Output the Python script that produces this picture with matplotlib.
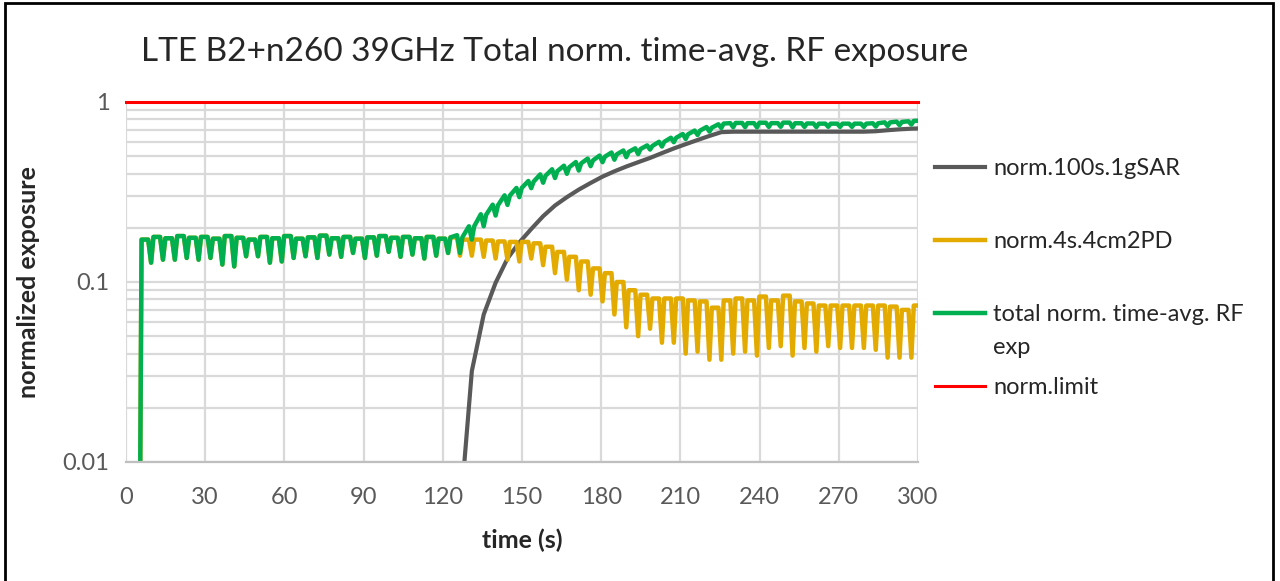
import numpy as np
import matplotlib.pyplot as plt
from matplotlib.patches import Rectangle

plt.rcParams['font.family'] = ['Lato', 'DejaVu Sans']

title = 'LTE B2+n260 39GHz Total norm. time-avg. RF exposure'
labels = ['norm.100s.1gSAR', 'norm.4s.4cm2PD', 'total norm. time-avg. RF', 'norm.limit']
label_wrap = 'exp'  # second line of the third legend entry

# one entry per PD cycle (cycle starts with the sharp dip), 4.5 s apart
cycle_t = 0.5 + 4.5 * np.arange(68)

pd_lo = [np.nan, 0.001, 0.128, 0.133, 0.133, 0.136, 0.133, 0.136, 0.125, 0.122,
         0.139, 0.139, 0.128, 0.130, 0.136, 0.139, 0.136, 0.142, 0.138, 0.145,
         0.136, 0.140, 0.147, 0.138, 0.142, 0.135, 0.140, 0.145, 0.140, 0.140,
         0.138, 0.135, 0.133, 0.130, 0.135, 0.124, 0.112, 0.103, 0.090, 0.085,
         0.078, 0.066, 0.056, 0.050, 0.055, 0.046, 0.046, 0.040, 0.041, 0.037,
         0.037, 0.040, 0.041, 0.039, 0.043, 0.044, 0.039, 0.043, 0.041, 0.044,
         0.043, 0.043, 0.043, 0.042, 0.038, 0.038, 0.038, 0.040]

pd_hi = [np.nan, 0.172, 0.178, 0.175, 0.180, 0.176, 0.178, 0.174, 0.180, 0.176,
         0.172, 0.178, 0.175, 0.180, 0.174, 0.177, 0.181, 0.175, 0.178, 0.174,
         0.177, 0.180, 0.176, 0.178, 0.175, 0.178, 0.174, 0.177, 0.172, 0.172,
         0.170, 0.168, 0.167, 0.167, 0.164, 0.157, 0.147, 0.138, 0.130, 0.119,
         0.112, 0.100, 0.090, 0.085, 0.081, 0.081, 0.081, 0.079, 0.078, 0.072,
         0.079, 0.081, 0.079, 0.083, 0.079, 0.084, 0.078, 0.076, 0.074, 0.074,
         0.074, 0.074, 0.074, 0.074, 0.073, 0.070, 0.074, 0.074]

sar = [0.0] * 28 + [0.005, 0.032, 0.066, 0.099, 0.135, 0.166, 0.197, 0.232, 0.266, 0.296,
                    0.326, 0.355, 0.385, 0.412, 0.438, 0.463, 0.489, 0.520, 0.552, 0.583,
                    0.615, 0.648, 0.680, 0.684, 0.684, 0.684, 0.684, 0.684, 0.684, 0.684,
                    0.684, 0.684, 0.684, 0.684, 0.684, 0.688, 0.697, 0.705, 0.711, 0.714]

limit = 1.0

# polyline per cycle: dip, quick rise to peak, top until the next dip
t_v = np.column_stack([cycle_t, cycle_t + 0.9, cycle_t + 3.4]).ravel()
pd_v = np.column_stack([pd_lo, pd_hi, pd_hi]).ravel()
sar_arr = np.array(sar)
sar_next = np.append(sar_arr[1:], sar_arr[-1])
total_v = pd_v + np.column_stack([sar_arr, sar_arr, sar_next]).ravel()
sar_plot = np.where(sar_arr > 0, sar_arr, np.nan)

fig = plt.figure(figsize=(12.8, 5.81), dpi=100)
ax = fig.add_axes([126 / 1280, 1 - 462 / 581, 792 / 1280, 360 / 581])

ax.plot(cycle_t, sar_plot, color='#595959', lw=3.0, label=labels[0])
ax.plot(t_v, pd_v, color='#E3AA00', lw=3.2, label=labels[1])
ax.plot(t_v, total_v, color='#00B050', lw=3.2, label=labels[2])
ax.plot([0, 300], [limit, limit], color='#FF0000', lw=2.2, label=labels[3], clip_on=False)

ax.set_yscale('log')
ax.set_ylim(0.01, 1)
ax.set_xlim(0, 300)
ax.set_xticks(np.arange(0, 301, 30))
ax.set_yticks([0.01, 0.1, 1])
ax.set_yticklabels(['0.01', '0.1', '1'])
ax.tick_params(axis='both', which='both', length=0, labelsize=17, colors='#595959')
ax.tick_params(axis='x', pad=18)
ax.tick_params(axis='y', pad=12)
ax.grid(True, which='both', color='#D9D9D9', lw=1.6)
ax.set_axisbelow(True)
for s in ['top', 'right', 'left']:
    ax.spines[s].set_visible(False)
ax.spines['bottom'].set_color('#BFBFBF')
ax.spines['bottom'].set_linewidth(1.6)

ax.set_xlabel('time (s)', fontsize=18, fontweight='bold', color='#262626', labelpad=15)
ax.set_ylabel('normalized exposure', fontsize=18, fontweight='bold', color='#262626', labelpad=16)

fig.text(555 / 1280, 1 - 52 / 581, title, ha='center', va='center', fontsize=24, color='#262626')

ax.legend(loc='upper left', bbox_to_anchor=(914 / 1280, 1 - 137 / 581), bbox_transform=fig.transFigure,
          frameon=False, fontsize=17, handlelength=2.1, handletextpad=0.35, labelspacing=2.2,
          labelcolor='#262626')
fig.text(993 / 1280, 1 - 347 / 581, label_wrap, ha='left', va='center', fontsize=17, color='#262626')

fig.add_artist(Rectangle((5 / 1280, -0.02), 1268 / 1280, 1.02 - 3 / 581, transform=fig.transFigure,
                         fill=False, edgecolor='black', lw=2))

fig.savefig('out.png', dpi=100)
